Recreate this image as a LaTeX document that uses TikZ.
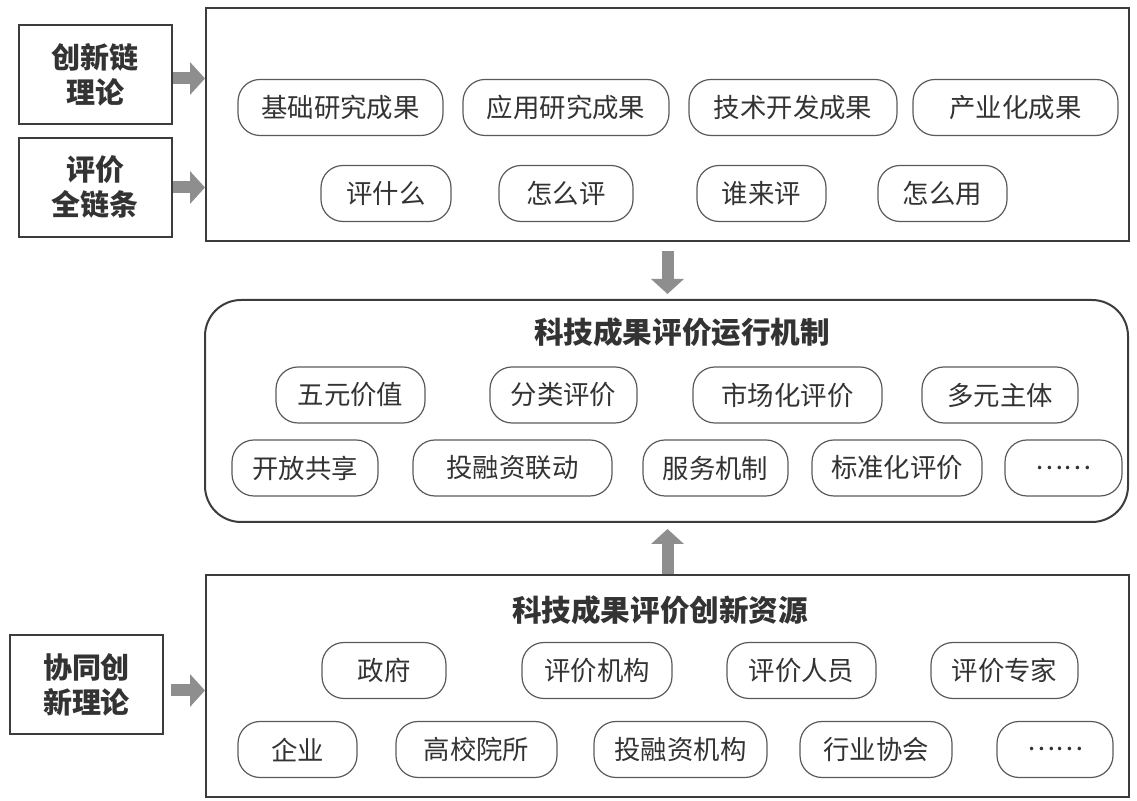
\documentclass[tikz,border=0pt]{standalone}
\usepackage{fontspec}
\setmainfont{Noto Sans CJK SC}
\usetikzlibrary{arrows.meta}
\definecolor{framegray}{HTML}{3C3C3C}
\definecolor{pillgray}{HTML}{5A5A5A}
\definecolor{arrowgray}{HTML}{8E8E8E}
\definecolor{inkgray}{HTML}{333333}
\begin{document}
\begin{tikzpicture}[x=0.5pt, y=-0.5pt,
		every node/.style={text=inkgray, inner sep=0pt},
		pill/.style={draw=pillgray, line width=0.6pt, rounded corners=11pt, minimum height=28pt, font=\fontsize{13.2}{15}\selectfont},
		bigbox/.style={draw=framegray, line width=1pt, minimum width=461.5pt},
		sidebox/.style={draw=framegray, line width=1pt, minimum width=76.5pt, minimum height=49.5pt, align=center, font=\fontsize{14.5}{17.5}\selectfont\bfseries},
		boxtitle/.style={font=\fontsize{14.8}{17}\selectfont\bfseries},
		bigarrow/.style={draw=arrowgray, line width=6pt, -{Triangle[width=16pt, length=7.5pt]}}]
			\useasboundingbox (0,0) rectangle (1137,801);
			\node [bigbox, minimum height=116.5pt] (top) at (667.5,124.5) {};
			\node [bigbox, minimum height=111pt, rounded corners=18pt] (mid) at (666.5,411) {};
			\node [bigbox, minimum height=111pt] (bot) at (667.5,686) {};
			\node [sidebox] (lt1) at (95.5,74.5) {创新链\\理论};
			\node [sidebox] (lt2) at (95.5,187.5) {评价\\全链条};
			\node [sidebox] (lt3) at (86.5,684.5) {协同创\\新理论};
			% chain of results
			\node [pill, minimum width=102.5pt] (a1) at (340.5,107.5) {基础研究成果};
			\node [pill, minimum width=103pt] (a2) at (566,107.5) {应用研究成果};
			\node [pill, minimum width=104pt] (a3) at (793,107.5) {技术开发成果};
			\node [pill, minimum width=102.5pt] (a4) at (1015.5,107.5) {产业化成果};
			\node [pill, minimum width=65pt] (b1) at (386,193.5) {评什么};
			\node [pill, minimum width=67pt] (b2) at (566,193.5) {怎么评};
			\node [pill, minimum width=64.5pt] (b3) at (761.5,193.5) {谁来评};
			\node [pill, minimum width=64.5pt] (b4) at (942.5,193.5) {怎么用};
			% mechanism
			\node [boxtitle] (midtitle) at (682,332) {科技成果评价运行机制};
			\node [pill, minimum width=74.5pt] (c1) at (350.5,395) {五元价值};
			\node [pill, minimum width=73.5pt] (c2) at (563.5,395) {分类评价};
			\node [pill, minimum width=94.5pt] (c3) at (787.5,395) {市场化评价};
			\node [pill, minimum width=78pt] (c4) at (1000,395) {多元主体};
			\node [pill, minimum width=73pt] (d1) at (305,468) {开放共享};
			\node [pill, minimum width=99.5pt] (d2) at (512.5,468) {投融资联动};
			\node [pill, minimum width=72.5pt] (d3) at (715.5,468) {服务机制};
			\node [pill, minimum width=85pt] (d4) at (897,468) {标准化评价};
			\node [pill, minimum width=58.5pt] (d5) at (1063.5,468) {……};
			% resources
			\node [boxtitle] (bottitle) at (660,610) {科技成果评价创新资源};
			\node [pill, minimum width=62pt] (e1) at (384,670.5) {政府};
			\node [pill, minimum width=75pt] (e2) at (597,670.5) {评价机构};
			\node [pill, minimum width=74.5pt] (e3) at (801.5,670.5) {评价人员};
			\node [pill, minimum width=73.5pt] (e4) at (1004.5,670.5) {评价专家};
			\node [pill, minimum width=59.5pt] (f1) at (297.5,749.5) {企业};
			\node [pill, minimum width=80.5pt] (f2) at (476.5,749.5) {高校院所};
			\node [pill, minimum width=86.5pt] (f3) at (680.5,749.5) {投融资机构};
			\node [pill, minimum width=76pt] (f4) at (876,749.5) {行业协会};
			\node [pill, minimum width=58pt] (f5) at (1055,749.5) {……};
			\draw [bigarrow] ([yshift=-2pt]lt1.east) -- ([yshift=-2pt]lt1.east -| top.west);
			\draw [bigarrow] (lt2.east) -- (lt2.east -| top.west);
			\draw [bigarrow, shorten <=3.5pt] ([yshift=-3pt]lt3.east) -- ([yshift=-3pt]lt3.east -| bot.west);
			\draw [bigarrow, shorten <=4.5pt, shorten >=2.5pt] (top.south) -- (top.south |- mid.north);
			\draw [bigarrow, shorten >=3pt] (bot.north) -- (bot.north |- mid.south);
		\end{tikzpicture}
\end{document}
